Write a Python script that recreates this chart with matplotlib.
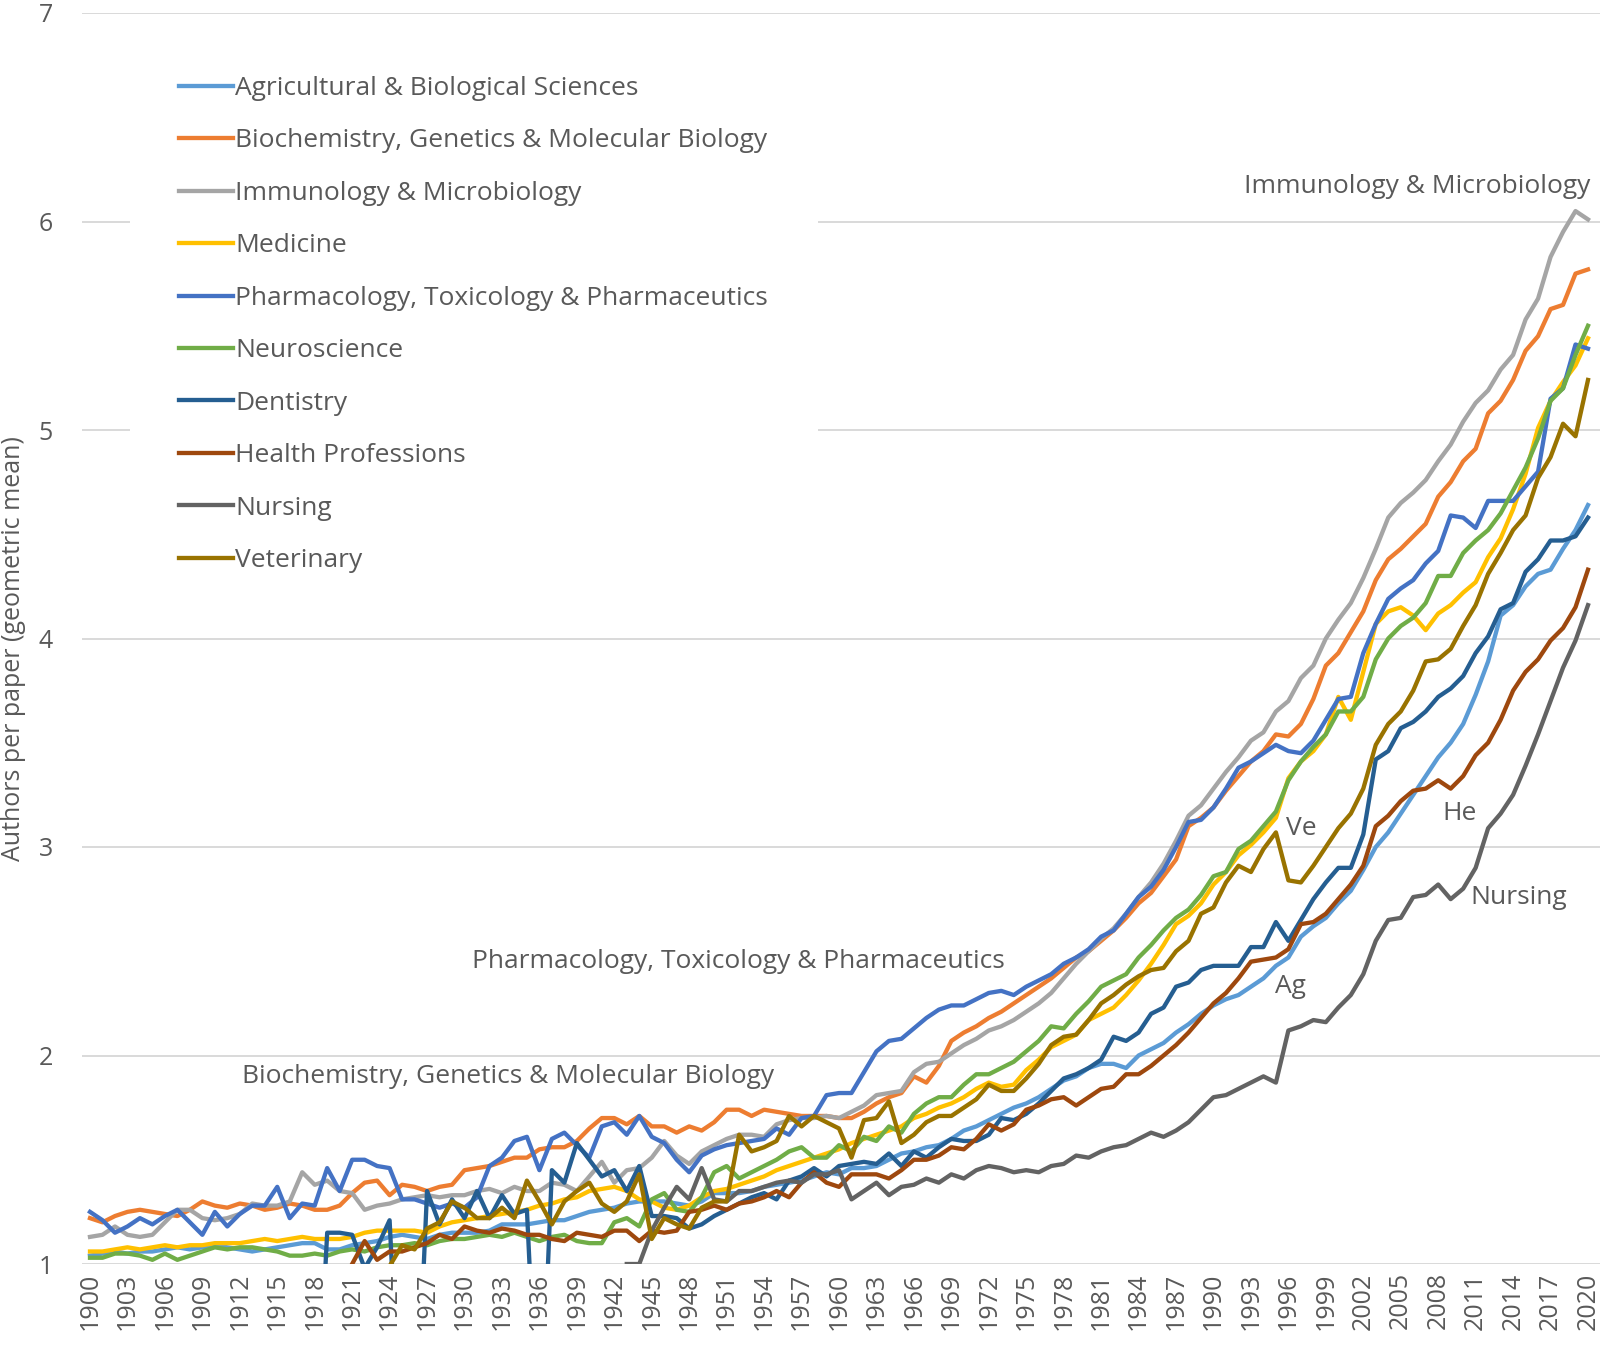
import numpy as np
import matplotlib
matplotlib.use("Agg")
import matplotlib.pyplot as plt
from matplotlib.patches import Rectangle

nan = np.nan
years = list(range(1900, 2021))

# values (0 = below the axis minimum, nan = no data)
agricultural = [1.04, 1.05, 1.06, 1.05, 1.06, 1.06, 1.07, 1.08, 1.07, 1.08, 1.09, 1.08, 1.07, 1.06, 1.07, 1.08, 1.09, 1.10, 1.10, 1.07, 1.07, 1.09, 1.10, 1.11,
                1.13, 1.14, 1.13, 1.12, 1.14, 1.15, 1.15, 1.15, 1.16, 1.19, 1.19, 1.19, 1.20, 1.21,
                1.21, 1.23, 1.25, 1.26, 1.27, 1.29, 1.30, 1.30, 1.30, 1.29, 1.28, 1.30, 1.34, 1.34, 1.34, 1.35, 1.37, 1.38, 1.39, 1.40, 1.42, 1.44, 1.43, 1.46, 1.46, 1.47, 1.50, 1.53, 1.54, 1.56,
                1.57, 1.60, 1.64, 1.66, 1.69, 1.72, 1.75, 1.77, 1.80, 1.84, 1.88, 1.90, 1.94, 1.96, 1.96, 1.94, 2.00, 2.03, 2.06,
                2.11, 2.15, 2.20, 2.24, 2.27, 2.29, 2.33, 2.37, 2.43, 2.47, 2.57, 2.62, 2.66, 2.73, 2.79, 2.89, 3.00, 3.07,
                3.16, 3.25, 3.34, 3.43, 3.50, 3.59, 3.73, 3.89, 4.11, 4.16, 4.25, 4.31, 4.33, 4.43, 4.52, 4.64]
biochemistry = [1.22, 1.20, 1.23, 1.25, 1.26, 1.25, 1.24, 1.23, 1.26, 1.30, 1.28, 1.27, 1.29, 1.28, 1.26, 1.27, 1.29, 1.28, 1.26, 1.26, 1.28, 1.34, 1.39, 1.40,
                1.33, 1.38, 1.37, 1.35, 1.37, 1.38, 1.45, 1.46, 1.47, 1.49, 1.51, 1.51, 1.55, 1.56,
                1.56, 1.59, 1.65, 1.70, 1.70, 1.67, 1.71, 1.66, 1.66, 1.63, 1.66, 1.64, 1.68, 1.74, 1.74, 1.71, 1.74, 1.73, 1.72, 1.71, 1.71, 1.71, 1.70, 1.70, 1.73, 1.77, 1.80, 1.82, 1.90, 1.87,
                1.95, 2.07, 2.11, 2.14, 2.18, 2.21, 2.25, 2.29, 2.33, 2.37, 2.42, 2.47, 2.50, 2.55, 2.60, 2.66, 2.73, 2.78, 2.86, 2.94,
                3.10, 3.14, 3.19, 3.27, 3.34, 3.41, 3.46, 3.54, 3.53, 3.59, 3.71, 3.87, 3.93, 4.03, 4.13, 4.28, 4.38,
                4.43, 4.49, 4.55, 4.68, 4.75, 4.85, 4.91, 5.08, 5.14, 5.24, 5.38, 5.45, 5.58, 5.60, 5.75, 5.77]
immunology = [1.13, 1.14, 1.18, 1.14, 1.13, 1.14, 1.20, 1.26, 1.26, 1.22, 1.21, 1.22, 1.24, 1.29, 1.28, 1.28, 1.30, 1.44, 1.38, 1.40, 1.35, 1.34, 1.26, 1.28,
              1.29, 1.31, 1.32, 1.33, 1.32, 1.33, 1.33, 1.35, 1.36, 1.34, 1.37, 1.35, 1.35, 1.39,
              1.38, 1.35, 1.42, 1.49, 1.39, 1.45, 1.46, 1.51, 1.59, 1.52, 1.48, 1.54, 1.57, 1.60, 1.62, 1.62, 1.61, 1.67, 1.69, 1.70, 1.70, 1.71, 1.70, 1.73, 1.76, 1.81, 1.82, 1.83, 1.92, 1.96,
              1.97, 2.01, 2.05, 2.08, 2.12, 2.14, 2.17, 2.21, 2.25, 2.30, 2.37, 2.44, 2.50, 2.56, 2.61, 2.68, 2.76, 2.83, 2.92, 3.03,
              3.15, 3.20, 3.28, 3.36, 3.43, 3.51, 3.55, 3.65, 3.70, 3.81, 3.87, 4.00, 4.09, 4.17, 4.29, 4.43, 4.58,
              4.65, 4.70, 4.76, 4.85, 4.93, 5.04, 5.13, 5.19, 5.29, 5.36, 5.53, 5.63, 5.83, 5.95, 6.05, 6.01]
medicine = [1.06, 1.06, 1.07, 1.08, 1.07, 1.08, 1.09, 1.08, 1.09, 1.09, 1.10, 1.10, 1.10, 1.11, 1.12, 1.11, 1.12, 1.13, 1.12, 1.12, 1.12, 1.13, 1.15, 1.16,
            1.16, 1.16, 1.16, 1.15, 1.18, 1.20, 1.21, 1.22, 1.23, 1.24, 1.25, 1.26, 1.28, 1.29,
            1.31, 1.32, 1.35, 1.36, 1.37, 1.35, 1.31, 1.30,
            1.27, 1.26, 1.28, 1.32, 1.35, 1.36, 1.38, 1.40, 1.42, 1.45, 1.47, 1.49, 1.51, 1.53, 1.55, 1.58, 1.60, 1.62, 1.64, 1.66, 1.70, 1.72,
            1.75, 1.77, 1.80, 1.84, 1.87, 1.85, 1.86, 1.93, 1.98, 2.04, 2.07, 2.10, 2.17, 2.20, 2.23, 2.29, 2.36, 2.44, 2.53,
            2.63, 2.67, 2.73, 2.82, 2.88, 2.96, 3.01, 3.07, 3.14, 3.33, 3.41, 3.46, 3.54, 3.72, 3.61, 3.84, 4.07, 4.13,
            4.15, 4.11, 4.04, 4.12, 4.16, 4.22, 4.27, 4.39, 4.48, 4.62, 4.79, 5.01, 5.14, 5.23, 5.31, 5.44]
pharmacology = [1.25, 1.21, 1.15, 1.18, 1.22, 1.19, 1.23, 1.26, 1.20, 1.14, 1.25, 1.18, 1.24, 1.28, 1.28, 1.37, 1.22, 1.29, 1.28, 1.46, 1.35, 1.50, 1.50, 1.47,
                1.46, 1.31, 1.31, 1.29, 1.27, 1.29, 1.27, 1.32, 1.47, 1.51, 1.59, 1.61, 1.45, 1.60, 1.63, 1.57, 1.51,
                1.66, 1.68, 1.62, 1.71, 1.61, 1.58, 1.50, 1.44, 1.52, 1.55, 1.57, 1.58, 1.59, 1.60, 1.65, 1.62, 1.70, 1.71, 1.81, 1.82, 1.82, 1.92, 2.02, 2.07, 2.08, 2.13, 2.18, 2.22, 2.24, 2.24,
                2.27, 2.30, 2.31, 2.29, 2.33, 2.36, 2.39, 2.44, 2.47, 2.51, 2.57, 2.60, 2.68, 2.76, 2.81, 2.89, 3.00,
                3.12, 3.13, 3.19, 3.28, 3.38, 3.41, 3.45, 3.49, 3.46, 3.45, 3.51, 3.61, 3.71, 3.72, 3.93, 4.07, 4.19,
                4.24, 4.28, 4.36, 4.42, 4.59, 4.58, 4.53, 4.66, 4.66, 4.66, 4.73, 4.80, 5.15, 5.20, 5.41, 5.39]
neuroscience = [1.03, 1.03, 1.05, 1.05, 1.04, 1.02, 1.05, 1.02, 1.04, 1.06, 1.08, 1.07, 1.08, 1.08, 1.07, 1.06, 1.04, 1.04, 1.05, 1.04, 1.06, 1.07, 1.06, 1.08,
                1.09, 1.09, 1.10, 1.09, 1.11, 1.12, 1.12, 1.13, 1.14, 1.13, 1.15, 1.13, 1.11, 1.13,
                1.14, 1.11, 1.10, 1.10, 1.20, 1.22, 1.18, 1.31, 1.34, 1.26, 1.25, 1.32, 1.44, 1.47, 1.41, 1.44, 1.47, 1.50, 1.54, 1.56, 1.51, 1.51, 1.57, 1.54, 1.61, 1.59, 1.66, 1.63, 1.72, 1.77,
                1.80, 1.80, 1.86, 1.91, 1.91, 1.94, 1.97, 2.02, 2.07, 2.14, 2.13, 2.20, 2.26, 2.33, 2.36, 2.39, 2.47, 2.53, 2.60,
                2.66, 2.70, 2.77, 2.86, 2.88, 2.99, 3.03, 3.10, 3.17, 3.32, 3.41, 3.48, 3.54, 3.65, 3.65, 3.72, 3.90, 4.00,
                4.06, 4.10, 4.17, 4.30, 4.30, 4.41, 4.47, 4.52, 4.60, 4.71, 4.82, 4.96, 5.14, 5.20, 5.36, 5.50]
dentistry = [nan] * 18 + [0.0,
             1.15, 1.15, 1.14, 0.98, 1.08, 1.21,
             0.0, 0.0,
             1.35, 1.19, 1.31, 1.22, 1.35, 1.22, 1.33, 1.24, 1.26,
             0.0,
             1.45,
             1.39, 1.58, 1.50, 1.42, 1.45, 1.35, 1.47, 1.23, 1.23, 1.22, 1.17, 1.19, 1.23, 1.26, 1.29, 1.32, 1.34, 1.31, 1.40, 1.42, 1.46, 1.42, 1.47, 1.48, 1.49, 1.48, 1.53, 1.47, 1.54, 1.51,
             1.56, 1.60, 1.59, 1.59, 1.62, 1.70, 1.69, 1.72, 1.77, 1.83, 1.89, 1.91, 1.94, 1.98, 2.09, 2.07, 2.11, 2.20, 2.23,
             2.33, 2.35, 2.41, 2.43, 2.43, 2.43, 2.52, 2.52, 2.64, 2.55, 2.65, 2.75, 2.83, 2.90, 2.90, 3.06, 3.42, 3.46,
             3.57, 3.60, 3.65, 3.72, 3.76, 3.82, 3.93, 4.01, 4.14, 4.17, 4.32, 4.38, 4.47, 4.47, 4.49, 4.58]
health = [nan] * 21 + [1.00, 1.11, 1.02, 1.06, 1.06, 1.08, 1.10, 1.14, 1.12, 1.18, 1.16, 1.15, 1.17, 1.16, 1.14, 1.14, 1.12,
          1.11, 1.15, 1.14, 1.13, 1.16, 1.16, 1.11, 1.16, 1.15, 1.16, 1.25, 1.26, 1.28, 1.26, 1.29, 1.30, 1.32, 1.35, 1.32, 1.39, 1.44, 1.39, 1.37, 1.43, 1.43, 1.43, 1.41, 1.45, 1.50, 1.50,
          1.52, 1.56, 1.55, 1.60, 1.67, 1.64, 1.67, 1.74, 1.76, 1.79, 1.80, 1.76, 1.80, 1.84, 1.85, 1.91, 1.91, 1.95, 2.00,
          2.05, 2.11, 2.18, 2.25, 2.30, 2.37, 2.45, 2.46, 2.47, 2.51, 2.63, 2.64, 2.68, 2.75, 2.82, 2.91, 3.10, 3.15,
          3.22, 3.27, 3.28, 3.32, 3.28, 3.34, 3.44, 3.50, 3.61, 3.75, 3.84, 3.90, 3.99, 4.05, 4.15, 4.33]
nursing = [nan] * 43 + [1.00, 1.00, 1.16, 1.27, 1.37, 1.31, 1.46, 1.31, 1.30, 1.35, 1.35, 1.37, 1.39, 1.40, 1.39, 1.43, 1.43, 1.45, 1.31, 1.35, 1.39, 1.33, 1.37, 1.38, 1.41,
           1.39, 1.43, 1.41, 1.45, 1.47, 1.46, 1.44, 1.45, 1.44, 1.47, 1.48, 1.52, 1.51, 1.54, 1.56, 1.57, 1.60, 1.63, 1.61,
           1.64, 1.68, 1.74, 1.80, 1.81, 1.84, 1.87, 1.90, 1.87, 2.12, 2.14, 2.17, 2.16, 2.23, 2.29, 2.39, 2.55, 2.65,
           2.66, 2.76, 2.77, 2.82, 2.75, 2.80, 2.90, 3.09, 3.16, 3.25, 3.39, 3.54, 3.70, 3.86, 3.99, 4.16]
veterinary = [nan] * 24 + [0.99, 1.09, 1.07, 1.17, 1.20, 1.30, 1.27, 1.22, 1.22, 1.27, 1.22, 1.40, 1.30, 1.19,
              1.30, 1.35, 1.39, 1.29, 1.25, 1.30, 1.43, 1.12, 1.22, 1.19, 1.17, 1.27, 1.30, 1.30, 1.62, 1.54, 1.56, 1.59, 1.71, 1.66, 1.71, 1.68, 1.65, 1.51, 1.69, 1.70, 1.78, 1.58, 1.62, 1.68,
              1.71, 1.71, 1.75, 1.79, 1.86, 1.83, 1.83, 1.89, 1.96, 2.05, 2.09, 2.10, 2.17, 2.25, 2.29, 2.34, 2.38, 2.41, 2.42,
              2.50, 2.55, 2.68, 2.71, 2.83, 2.91, 2.88, 2.99, 3.07, 2.84, 2.83, 2.91, 3.00, 3.09, 3.16, 3.28, 3.49, 3.59,
              3.65, 3.75, 3.89, 3.90, 3.95, 4.06, 4.16, 4.31, 4.41, 4.52, 4.59, 4.77, 4.87, 5.03, 4.97, 5.24]

names = ['Agricultural & Biological Sciences', 'Biochemistry, Genetics & Molecular Biology',
         'Immunology & Microbiology', 'Medicine', 'Pharmacology, Toxicology & Pharmaceutics',
         'Neuroscience', 'Dentistry', 'Health Professions', 'Nursing', 'Veterinary']
series = [agricultural, biochemistry, immunology, medicine, pharmacology,
          neuroscience, dentistry, health, nursing, veterinary]
colors = ['#5B9BD5', '#ED7D31', '#A5A5A5', '#FFC000', '#4472C4',
          '#70AD47', '#255E91', '#9E480E', '#636363', '#997300']

# annotation labels (text, year, value, alignment)
labels = [('Immunology & Microbiology', 2020.2, 6.17, 'right'),
          ('Pharmacology, Toxicology & Pharmaceutics', 1930.6, 2.45, 'left'),
          ('Biochemistry, Genetics & Molecular Biology', 1912.2, 1.90, 'left'),
          ('Ve', 1995.8, 3.09, 'left'),
          ('He', 2008.3, 3.16, 'left'),
          ('Ag', 1994.9, 2.33, 'left'),
          ('Nursing', 2010.6, 2.76, 'left')]

plt.rcParams['font.family'] = ['Open Sans', 'DejaVu Sans']
text_color = '#595959'
fs = 19

fig = plt.figure(figsize=(16.03, 13.45), dpi=100)
ax = fig.add_axes([82 / 1603, 1 - 1264 / 1345, (1600 - 82) / 1603, (1264 - 13) / 1345])

lines = []
for vals, name, col in zip(series, names, colors):
    ln, = ax.plot(years, vals, color=col, lw=3.1, label=name, solid_joinstyle='round', zorder=2)
    lines.append(ln)

ax.set_xlim(1900 - 8 / 12.48, 2020 + 12 / 12.48)
ax.set_ylim(1, 7)
ax.set_yticks(range(1, 8))
ax.set_xticks(years[::3])
ax.set_xticklabels([str(y) for y in years[::3]], rotation=90)
ax.tick_params(axis='both', length=0, labelsize=18, colors=text_color)
ax.tick_params(axis='y', pad=21)
ax.tick_params(axis='x', pad=6)
for s in ax.spines.values():
    s.set_visible(False)
ax.yaxis.grid(True, color='#D9D9D9', lw=1.4)
ax.set_axisbelow(True)

# white box behind the legend, like the chart's legend area
ax.add_patch(Rectangle((130 / 1603, 1 - 600 / 1345), (818 - 130) / 1603, (600 - 40) / 1345,
                       transform=fig.transFigure, facecolor='white', edgecolor='none', zorder=1.5))

leg = ax.legend(handles=lines, loc='upper left', bbox_to_anchor=(179 / 1603, 1 - 76 / 1345),
                bbox_transform=fig.transFigure, frameon=False, fontsize=fs,
                handlelength=2.05, handletextpad=0.08, labelspacing=1.04, borderpad=0, borderaxespad=0)
leg.set_zorder(5)
for t in leg.get_texts():
    t.set_color(text_color)

for txt, x, y, ha in labels:
    ax.text(x, y, txt, ha=ha, va='center', fontsize=fs, color=text_color, zorder=4)

fig.text(14 / 1603, 1 - 649 / 1345, 'Authors per paper (geometric mean)', rotation=90,
         ha='center', va='center', fontsize=18, color=text_color)

fig.savefig('out.png', dpi=100)
